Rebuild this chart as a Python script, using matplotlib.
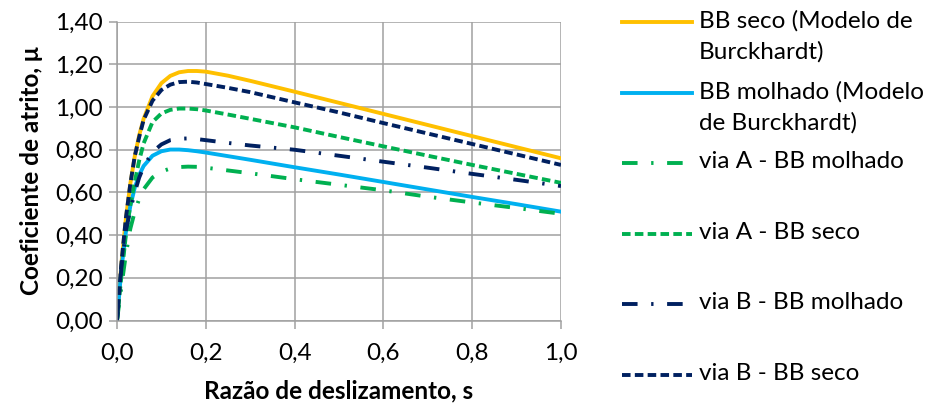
import matplotlib.pyplot as plt
from matplotlib.lines import Line2D

plt.rcParams['font.family'] = ['Lato', 'DejaVu Sans']

# razão de deslizamento (eixo x)
s = [0, 0.01, 0.02, 0.03, 0.04, 0.05, 0.06, 0.08, 0.10, 0.12, 0.14, 0.16, 0.18,
     0.20, 0.25, 0.30, 0.40, 0.50, 0.60, 0.70, 0.80, 0.90, 1.00]

# coeficientes de atrito
bb_seco = [0, 0.268, 0.477, 0.641, 0.769, 0.868, 0.945, 1.051, 1.112, 1.146, 1.163,
           1.169, 1.169, 1.166, 1.147, 1.123, 1.072, 1.020, 0.968, 0.916, 0.864, 0.812, 0.760]
bb_molhado = [0, 0.243, 0.414, 0.536, 0.622, 0.682, 0.724, 0.772, 0.793, 0.801, 0.801,
              0.798, 0.793, 0.787, 0.770, 0.753, 0.718, 0.684, 0.649, 0.614, 0.579, 0.545, 0.510]
viaA_molhado = [0, 0.16, 0.31, 0.43, 0.51, 0.57, 0.615, 0.67, 0.698, 0.712, 0.719,
                0.721, 0.720, 0.716, 0.703, 0.690, 0.662, 0.636, 0.610, 0.580, 0.553, 0.527, 0.500]
viaA_seco = [0, 0.21, 0.40, 0.54, 0.65, 0.75, 0.83, 0.93, 0.970, 0.987, 0.993,
             0.993, 0.990, 0.984, 0.965, 0.945, 0.905, 0.860, 0.816, 0.772, 0.729, 0.687, 0.645]
viaB_molhado = [0, 0.25, 0.42, 0.52, 0.60, 0.67, 0.72, 0.79, 0.825, 0.845, 0.852,
                0.853, 0.850, 0.845, 0.832, 0.820, 0.800, 0.772, 0.744, 0.716, 0.687, 0.659, 0.630]
viaB_seco = [0, 0.27, 0.48, 0.64, 0.77, 0.86, 0.94, 1.03, 1.08, 1.105, 1.117,
             1.119, 1.115, 1.108, 1.090, 1.070, 1.022, 0.975, 0.925, 0.876, 0.827, 0.778, 0.729]

rotulos = ["BB seco (Modelo de\nBurckhardt)", "BB molhado (Modelo\nde Burckhardt)",
           "via A - BB molhado", "via A - BB seco", "via B - BB molhado", "via B - BB seco"]

laranja, azul, verde, marinho = '#FFC000', '#00B0F0', '#00B050', '#002060'
tracejado = (0, (2.2, 1.1))
traco_ponto = (0, (4.0, 3.5, 0.6, 3.5))
series = [(bb_seco, laranja, '-'), (bb_molhado, azul, '-'),
          (viaA_molhado, verde, traco_ponto), (viaA_seco, verde, tracejado),
          (viaB_molhado, marinho, traco_ponto), (viaB_seco, marinho, tracejado)]
lw = 2.8
fs = 17.5

fig = plt.figure(figsize=(9.3, 4.07), dpi=100)
ax = fig.add_axes([0.1258, 0.2125, 0.4774, 0.7342])

for y, cor, estilo in series:
    ax.plot(s, y, color=cor, linestyle=estilo, linewidth=lw)

ax.set_xlim(0, 1.0)
ax.set_ylim(0, 1.4)
xt = [0, 0.2, 0.4, 0.6, 0.8, 1.0]
yt = [0, 0.2, 0.4, 0.6, 0.8, 1.0, 1.2, 1.4]
ax.set_xticks(xt)
ax.set_xticklabels([f"{v:.1f}".replace('.', ',') for v in xt])
ax.set_yticks(yt)
ax.set_yticklabels([f"{v:.2f}".replace('.', ',') for v in yt])
ax.grid(True, color='#A0A0A0', linewidth=1.1)
ax.set_axisbelow(True)
for lado in ['top', 'right']:
    ax.spines[lado].set_visible(False)
for lado in ['left', 'bottom']:
    ax.spines[lado].set_color('#A0A0A0')
    ax.spines[lado].set_linewidth(1.1)
ax.tick_params(colors='#A0A0A0', labelcolor='black', labelsize=fs, length=6, width=1.1, pad=4)
ax.tick_params(axis='x', pad=10)

ax.set_xlabel("Razão de deslizamento, s", fontsize=fs, fontweight='bold', labelpad=11)
ax.set_ylabel("Coeficiente de atrito, μ", fontsize=fs, fontweight='bold', labelpad=9)

# legenda desenhada à direita
y0 = 1 - 22 / 407
passo = 70.6 / 407
for i, (rot, (y, cor, estilo)) in enumerate(zip(rotulos, series)):
    yy = y0 - i * passo
    fig.add_artist(Line2D([622 / 930, 692 / 930], [yy, yy], color=cor,
                          linestyle=estilo, linewidth=lw))
    fig.text(699 / 930, yy + 12 / 407, rot, fontsize=fs, va='top', ha='left',
             linespacing=1.55, transform=fig.transFigure)

fig.savefig('out.png', dpi=100)
